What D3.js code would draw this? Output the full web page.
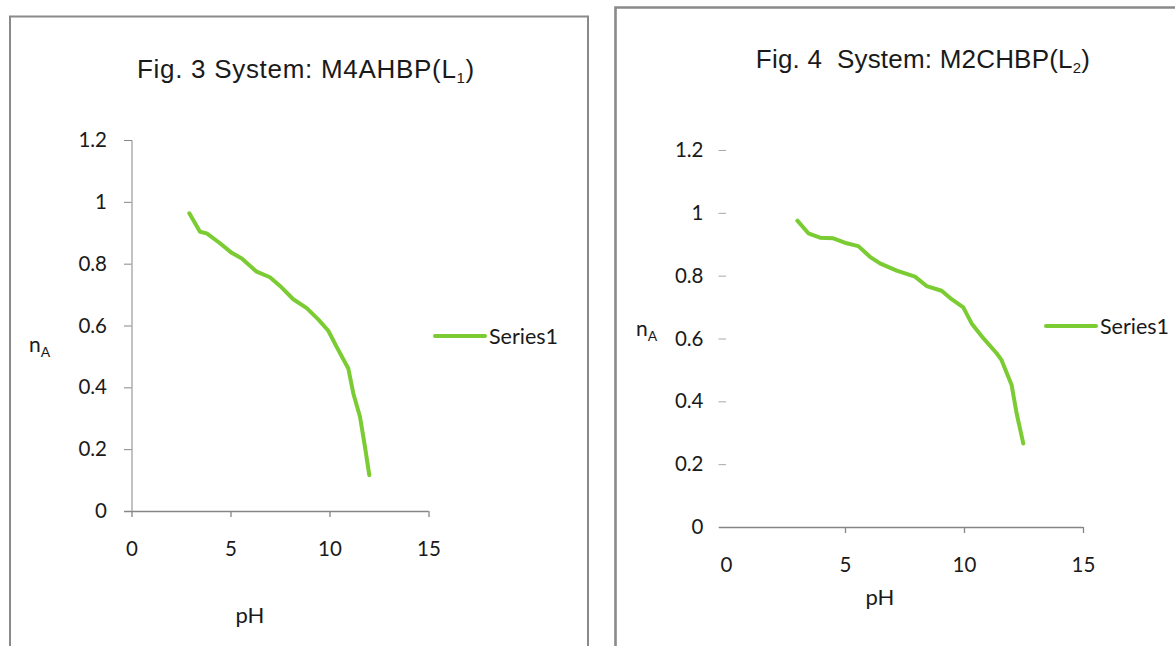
<!DOCTYPE html>
<html><head><meta charset="utf-8">
<script src="https://cdn.jsdelivr.net/npm/d3@7"></script>
<style>
html,body{margin:0;padding:0;background:#fff;}
svg{display:block;}
text{fill:#1a1a1a;}
</style></head>
<body>
<svg id="c" width="1175" height="646"></svg>
<script>
// ---- data ----
const seriesName = "Series1";
const xTicks = [0, 5, 10, 15];
const yTicks = [0, 0.2, 0.4, 0.6, 0.8, 1, 1.2];
const yTickLabels = ["0", "0.2", "0.4", "0.6", "0.8", "1", "1.2"];

const fig3pH = [2.92, 3.46, 3.80, 4.47, 5.06, 5.57, 6.32, 6.99, 7.50, 8.17, 8.85, 9.43, 9.94, 10.36, 10.95, 11.20, 11.54, 11.79, 12.01];
const fig3nA = [0.963, 0.903, 0.898, 0.866, 0.835, 0.817, 0.774, 0.756, 0.728, 0.685, 0.656, 0.620, 0.583, 0.531, 0.461, 0.381, 0.305, 0.208, 0.116];

const fig4pH = [3.00, 3.46, 3.95, 4.51, 5.07, 5.56, 6.05, 6.47, 7.17, 7.94, 8.43, 9.06, 9.48, 9.97, 10.32, 10.81, 11.37, 11.58, 12.00, 12.21, 12.49];
const fig4nA = [0.975, 0.935, 0.921, 0.919, 0.903, 0.894, 0.860, 0.839, 0.816, 0.797, 0.767, 0.752, 0.725, 0.699, 0.648, 0.601, 0.553, 0.531, 0.452, 0.362, 0.266];

const svg = d3.select("#c");
const lineColor = "#7acc32";
const axisColor = "#868686";
const tickFont = "Lato, 'Open Sans', sans-serif";
const titleFont = "'Liberation Sans', Arial, sans-serif";

// ---- frames ----
svg.append("path").attr("d","M10,647 L10,16.5 L588,16.5 L588,647")
  .attr("fill","none").attr("stroke","#8a8a8a").attr("stroke-width",2);
svg.append("path").attr("d","M615.5,647 L615.5,7.5 L1176,7.5")
  .attr("fill","none").attr("stroke","#8a8a8a").attr("stroke-width",2.6);

function title(g, x, y, main, sub, ls) {
  const t = g.append("text").attr("x",x).attr("y",y).attr("text-anchor","middle")
    .style("white-space","pre")
    .style("font-family",titleFont).style("font-size","26px").style("letter-spacing",ls+"px");
  t.append("tspan").text(main);
  t.append("tspan").attr("dy",5).style("font-size","15px").text(sub);
  t.append("tspan").attr("dy",-5).text(")");
}

function chart(cfg) {
  const g = svg.append("g");
  const x = d3.scaleLinear().domain([0,15]).range([cfg.x0, cfg.x1]);
  const y = d3.scaleLinear().domain([0,1.2]).range([cfg.y0, cfg.y1]);

  title(g, cfg.tx, cfg.ty, cfg.titleMain, cfg.titleSub, cfg.tls);

  // y axis
  const ya = g.append("g").attr("transform",`translate(${cfg.x0},0)`)
    .call(d3.axisLeft(y).tickValues(yTicks).tickFormat((d,i)=>yTickLabels[i]).tickSize(7.5).tickPadding(cfg.yPad));
  ya.select(".domain").attr("stroke", cfg.showYLine ? axisColor : "none");
  ya.selectAll(".tick line").attr("stroke", cfg.yTickColor);
  ya.selectAll(".tick text").style("font-family",tickFont).style("font-size","20.5px").attr("fill","#1a1a1a");

  // x axis
  const xa = g.append("g").attr("transform",`translate(0,${cfg.y0})`)
    .call(d3.axisBottom(x).tickValues(xTicks).tickSize(6).tickSizeOuter(0).tickPadding(cfg.xPad));
  xa.select(".domain").attr("stroke",axisColor).attr("stroke-width",1.3)
    .attr("d",`M${cfg.x0 - cfg.xLineExt},0.5H${cfg.x1}`);
  xa.selectAll(".tick line").attr("stroke",axisColor).attr("stroke-width",1.3);
  if (!cfg.zeroTick) xa.selectAll(".tick").filter(d=>d===0).select("line").remove();
  xa.selectAll(".tick text").style("font-family",tickFont).style("font-size","20.5px").attr("fill","#1a1a1a");

  // axis titles
  g.append("text").attr("x",cfg.px).attr("y",cfg.py).attr("text-anchor","middle")
    .style("font-family",tickFont).style("font-size","22px").text("pH");
  const na = g.append("text").attr("x",cfg.nx).attr("y",cfg.ny)
    .style("font-family",tickFont).style("font-size","21px");
  na.append("tspan").text("n");
  na.append("tspan").attr("dy",5).style("font-size","14px").text("A");

  // line
  const pts = cfg.xs.map((v,i)=>[v, cfg.ys[i]]);
  g.append("path").datum(pts)
    .attr("fill","none").attr("stroke",lineColor).attr("stroke-width",4)
    .attr("stroke-linejoin","round").attr("stroke-linecap","round")
    .attr("d", d3.line().x(d=>x(d[0])).y(d=>y(d[1])));

  // legend
  g.append("line").attr("x1",cfg.lx).attr("x2",cfg.lx+50).attr("y1",cfg.ly).attr("y2",cfg.ly)
    .attr("stroke",lineColor).attr("stroke-width",4).attr("stroke-linecap","round");
  g.append("text").attr("x",cfg.lx+54).attr("y",cfg.ly).attr("dy","0.35em")
    .style("font-family",tickFont).style("font-size","21.5px").text(seriesName);
}

chart({x0:131.5, x1:428.5, y0:511, y1:140, tx:306, ty:78, tls:0.7, titleMain:"Fig. 3 System: M4AHBP(L", titleSub:"1",
  showYLine:true, yTickColor:axisColor, yPad:17, xPad:24, xLineExt:7.5, zeroTick:true,
  px:250, py:623, nx:29, ny:352, xs:fig3pH, ys:fig3nA, lx:435, ly:336});

chart({x0:726, x1:1083, y0:527, y1:150, tx:923, ty:68, tls:0.2, titleMain:"Fig. 4  System: M2CHBP(L", titleSub:"2",
  showYLine:false, yTickColor:"#a8a8a8", yPad:15, xPad:24, xLineExt:7, zeroTick:false,
  px:880, py:605, nx:636, ny:336, xs:fig4pH, ys:fig4nA, lx:1046, ly:326});
</script>
</body></html>
